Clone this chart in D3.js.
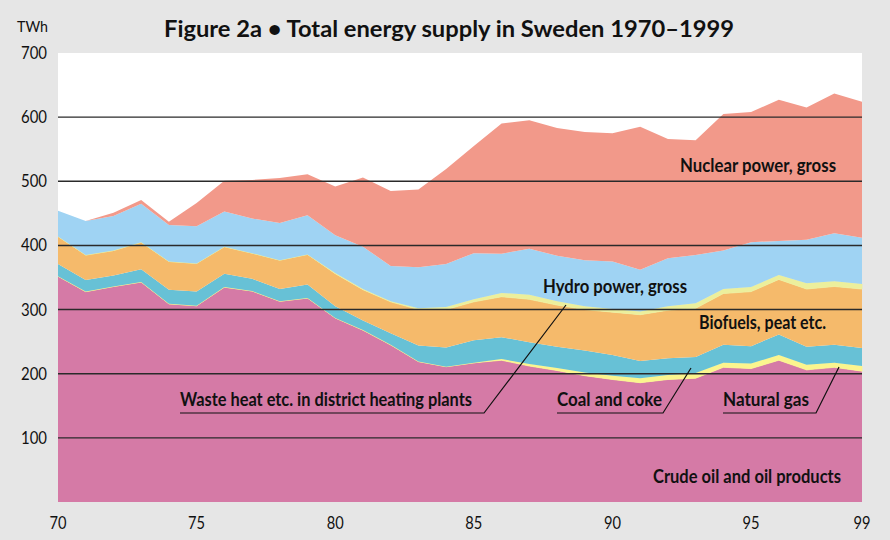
<!DOCTYPE html>
<html>
<head>
<meta charset="utf-8">
<script src="https://cdn.jsdelivr.net/npm/d3@7"></script>
<style>
  body { margin: 0; background: #e6e6e6; }
  svg { display: block; }
  text { font-family: "Lato", "Liberation Sans", sans-serif; fill: #111; }
</style>
</head>
<body>
<svg id="chart" width="890" height="540"></svg>
<script>
// Total energy supply in Sweden 1970-1999, TWh.
const years = d3.range(1970, 2000);

const crudeOil   = [352,328,336,343,309,306,335,329,313,318,287,268,245,219,211,217,221,212,205,197,191,186,191,193,210,208,221,206,210,204];
const naturalGas = [0,0,0,0,0,0,0,0,0,0,0,0,0,0,0,0,2,3,4,5,6,7,7,8,7,8,8,8,7,8];
const coalCoke   = [19,18,17,20,22,22,21,19,19,21,18,15,18,25,30,35,34,34,33,34,32,27,26,25,28,27,32,28,28,28];
const biofuels   = [43,39,39,42,44,44,42,40,45,47,51,48,49,56,59,60,63,67,65,64,67,72,75,76,80,85,86,90,91,92];
const wasteHeat  = [0,0,0,0,0,0,0,0,0,0,1,1,1,2,4,4,6,7,6,5,5,5,6,8,7,7,7,9,8,8];
const hydroPower = [40,53,54,60,57,58,55,54,58,61,59,66,55,64,67,72,61,72,71,72,74,65,75,75,60,70,53,68,75,72];
const nuclear    = [0,0,5,6,5,36,48,60,70,64,76,108,117,121,148,167,203,200,199,200,200,223,186,179,213,203,220,206,218,212];

const seriesKeys   = ["oil", "gas", "coal", "bio", "waste", "hydro", "nuclear"];
const seriesColors = ["#d57aa6", "#fbf58e", "#67c1d6", "#f5ba6b", "#ecef9c", "#9fd3f3", "#f2998a"];

const yTicks = [100, 200, 300, 400, 500, 600, 700];
const xTickYears  = [1970, 1975, 1980, 1985, 1990, 1995, 1999];
const xTickLabels = ["70", "75", "80", "85", "90", "95", "99"];

// build rows for d3.stack
const rows = years.map((yr, i) => ({
    year: yr,
    oil: crudeOil[i], gas: naturalGas[i], coal: coalCoke[i], bio: biofuels[i],
    waste: wasteHeat[i], hydro: hydroPower[i], nuclear: nuclear[i]
}));

const svg = d3.select("#chart");
const plotLeft = 58, plotRight = 862, plotTop = 53, plotBottom = 502;

const x = d3.scaleLinear().domain([1970, 1999]).range([plotLeft, plotRight]);
const y = d3.scaleLinear().domain([0, 700]).range([plotBottom, plotTop]);

// background + plot area
svg.append("rect").attr("width", 890).attr("height", 540).attr("fill", "#e6e6e6");
svg.append("rect")
    .attr("x", plotLeft).attr("y", plotTop)
    .attr("width", plotRight - plotLeft).attr("height", plotBottom - plotTop)
    .attr("fill", "#fff");

const stacked = d3.stack().keys(seriesKeys)(rows);
const color = d3.scaleOrdinal(seriesKeys, seriesColors);

const area = d3.area()
    .x(d => x(d.data.year))
    .y0(d => y(d[0]))
    .y1(d => y(d[1]));

svg.append("g")
    .selectAll("path")
    .data(stacked)
    .join("path")
    .attr("d", area)
    .attr("fill", d => color(d.key))
    // the thin layers get an outline so they still show as a hairline
    .attr("stroke", d => (d.key == "gas" || d.key == "waste") ? color(d.key) : "none")
    .attr("stroke-width", 0.8);

// gridlines on top of the areas
svg.append("g")
    .selectAll("line")
    .data(yTicks.filter(t => t < 700))
    .join("line")
    .attr("x1", plotLeft).attr("x2", plotRight)
    .attr("y1", d => y(d)).attr("y2", d => y(d))
    .attr("stroke", "#2a2a2a")
    .attr("stroke-width", 1.4);

// y axis labels (condensed like the original face)
svg.append("g")
    .selectAll("text")
    .data(yTicks)
    .join("text")
    .attr("x", 47).attr("y", d => y(d) + 6)
    .attr("text-anchor", "end")
    .attr("font-size", 17)
    .attr("textLength", 26).attr("lengthAdjust", "spacingAndGlyphs")
    .text(d => d);

svg.append("text")
    .attr("x", 17).attr("y", 32)
    .attr("font-size", 15)
    .attr("textLength", 31).attr("lengthAdjust", "spacingAndGlyphs")
    .text("TWh");

// x axis labels
svg.append("g")
    .selectAll("text")
    .data(xTickYears)
    .join("text")
    .attr("x", d => x(d)).attr("y", 529)
    .attr("text-anchor", "middle")
    .attr("font-size", 17)
    .attr("textLength", 17).attr("lengthAdjust", "spacingAndGlyphs")
    .text((d, i) => xTickLabels[i]);

// title
svg.append("text")
    .attr("x", 164).attr("y", 37)
    .attr("font-size", 22).attr("font-weight", "bold")
    .attr("textLength", 570).attr("lengthAdjust", "spacingAndGlyphs")
    .text("Figure 2a \u2022 Total energy supply in Sweden 1970\u20131999");

// series labels
const labels = [
    {text: "Nuclear power, gross", x: 680, y: 172, w: 156},
    {text: "Hydro power, gross", x: 543, y: 293, w: 144},
    {text: "Biofuels, peat etc.", x: 699, y: 329, w: 127},
    {text: "Waste heat etc. in district heating plants", x: 180, y: 406, w: 292},
    {text: "Coal and coke", x: 557, y: 406, w: 105},
    {text: "Natural gas", x: 723, y: 406, w: 86},
    {text: "Crude oil and oil products", x: 653, y: 483, w: 188}
];

svg.append("g")
    .selectAll("text")
    .data(labels)
    .join("text")
    .attr("x", d => d.x).attr("y", d => d.y)
    .attr("font-size", 18).attr("font-weight", "bold")
    .attr("textLength", d => d.w).attr("lengthAdjust", "spacingAndGlyphs")
    .text(d => d.text);

// underline + leader lines pointing at the thin layers
const leaders = [
    [[180, 413], [484, 413], [566, 305]],
    [[557, 413], [663, 413], [691, 368]],
    [[723, 413], [816, 413], [839, 367]]
];

svg.append("g")
    .selectAll("path")
    .data(leaders)
    .join("path")
    .attr("d", d3.line())
    .attr("fill", "none")
    .attr("stroke", "#111")
    .attr("stroke-width", 1.2);
</script>
</body>
</html>
